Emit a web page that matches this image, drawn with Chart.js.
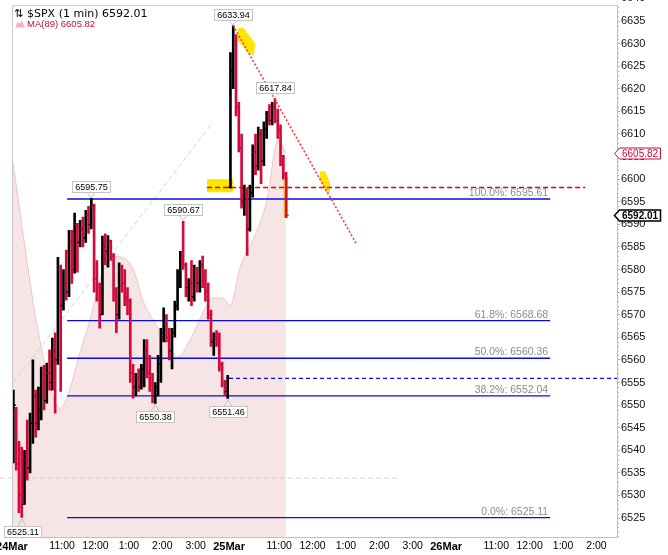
<!DOCTYPE html>
<html><head><meta charset="utf-8">
<script src="https://cdn.jsdelivr.net/npm/chart.js@4.4.1/dist/chart.umd.min.js"></script>
<style>html,body{margin:0;padding:0;background:#fff;overflow:hidden}canvas{display:block}</style>
</head><body><canvas id="c" width="668" height="555"></canvas>
<script>
// ---- x axis: session-minute index (24Mar 9:30 = 0, 25Mar 9:30 = 390, 26Mar 9:30 = 780)
const xTickIdx    = [0, 90, 150, 210, 270, 330, 390, 480, 540, 600, 660, 720, 780, 870, 930, 990, 1050];
const xTickLabels = ['24Mar','11:00','12:00','1:00','2:00','3:00','25Mar','11:00','12:00','1:00','2:00','3:00','26Mar','11:00','12:00','1:00','2:00'];
const yTicks = [6525,6530,6535,6540,6545,6550,6555,6560,6565,6570,6575,6580,6585,6590,6595,6600,6605,6610,6615,6620,6625,6630,6635,6640];

// ---- $SPX price bars (5-minute buckets)
const opens = [
 6541,6548,6537,6530,6528,6538,6536,6546,6552,6546,
 6549,6555,6551,6557,6555,6562,6560,6580,6572,6577,
 6575,6586,6580,6590,6586,6589,6587,6592,6590,6594,
 6578,6576,6570,6585,6584,6586,6583,6575,6570,6580,
 6577,6574,6573,6557,6554,6556,6554,6558,6562,6557,
 6555,6552,6554,6559,6566,6568,6565,6562,6566,6572,
 6578,6582,6581,6576,6577,6574,6580,6577,6581,6579,
 6575,6570,6564,6565,6564,6559,6555,6553,
 6598.2,6624,6630,6616,6607,6595,6597,6589,6597,6606,6603,6610,6604,6611,6614,6613,6616,6613,6611,6604,6601];
const highs = [
 6553.3,6549.5,6542,6540.7,6540,6546.7,6548.2,6560,6553.3,6554,
 6558.4,6558.8,6559.3,6562.2,6564.8,6566,6582.7,6581,6580,6584.3,
 6588.7,6588.7,6592.5,6590.2,6590.9,6591.6,6593.1,6594,6595.75,6594.5,
 6582,6577,6587.4,6587.9,6587.5,6586.5,6583.5,6576,6581.5,6581,
 6580,6576,6573.5,6559,6557,6558,6559,6564.5,6564.5,6561,
 6557,6555,6561,6567,6571.5,6570,6567,6567,6573,6580,
 6584,6590.67,6581.5,6578,6582,6581,6580.5,6582,6583,6580,
 6577,6571,6566,6566.5,6566,6559.5,6555.5,6556.6,
 6628,6633.94,6632,6617,6610,6598.7,6598,6598.7,6607.6,6610,6611.5,6611,6612.7,6615,6616.5,6617,6617.84,6615.5,6612,6605.3,6601.5];
const lows = [
 6537.2,6535.6,6526.2,6525.11,6528,6533.4,6535,6541.5,6542.9,6544.5,
 6546.7,6548.9,6550.4,6553.3,6553.3,6548.2,6559,6553,6571,6573.2,
 6574,6576.9,6579.2,6579.4,6585,6585,6586,6588,6589,6575,
 6573,6567,6570,6581,6580.5,6582,6573,6566,6569,6575,
 6572,6570,6555,6551.5,6552,6553,6553.5,6554,6556,6553,
 6550.5,6550.38,6552,6555,6564,6564,6560,6558,6565,6571,
 6576,6580,6574,6573,6572,6573,6575,6575,6576,6573,
 6569,6563,6561,6563,6557.5,6554,6552,6551.46,
 6598,6620,6614,6606,6593.6,6592,6583.1,6588.5,6596,6601,6602,6599,6603,6609,6612,6612,6612.5,6609,6603,6600,6591.5];
const closes = [
 6550,6537,6530,6528,6538,6536,6546,6552,6546,6549,
 6555,6551,6557,6555,6562,6560,6580,6572,6577,6575,
 6586,6580,6590,6586,6589,6587,6592,6590,6594,6578,
 6576,6570,6585,6584,6586,6583,6575,6570,6580,6577,
 6574,6573,6557,6554,6556,6554,6558,6562,6557,6555,
 6552,6554,6559,6566,6568,6565,6562,6566,6572,6578,
 6582,6581,6576,6577,6574,6580,6577,6581,6579,6575,
 6570,6564,6565,6564,6559,6555,6553,6555.9,
 6624,6630,6616,6607,6595,6597,6589,6597,6606,6603,6610,6604,6611,6614,6613,6616,6613,6611,6604,6601,6592.01];
const barMinutes = 5;

// ---- MA(89) mountain (minute index, value)
const maIdx = [0,50,86,99,122,140,158,176,189,217,235,261,284,297,320,343,361,379,392,410,433,458,478,492];
const maVal = [6604.9,6564.4,6549.3,6551.8,6561.5,6568.8,6577.7,6582.1,6582.8,6580.3,6573.2,6567.3,6562.2,6560.6,6564.4,6570.4,6573.7,6573.7,6572.1,6580.5,6586.5,6595.3,6608.6,6605.8];

// ---- Fibonacci retracement
const fibPct = ['100.0%','61.8%','50.0%','38.2%','0.0%'];
const fibVal = [6595.61, 6568.68, 6560.36, 6552.04, 6525.11];
const fibIdx = [99, 967];

// ---- drawn studies (minute index / value pairs)
const trendIdx = [397.2, 618.3],  trendVal = [6634.05, 6585.8];
const diagIdx  = [1.8, 361],      diagVal  = [6554.86, 6612.6];
const grayHIdx = [-21.6, 693.7],  grayHVal = 6533.85;
const redHIdx  = [350.5, 1030],   redHVal  = 6598.15;
const blueHIdx = [390, 1087],     blueHVal = 6555.9;

// ---- price call-outs
const tagVals  = [6633.94, 6617.84, 6595.75, 6590.67, 6550.38, 6551.46, 6525.11];
const tagBar   = [79, 94, 28, 61, 51, 77, 3];
const tagAbove = [true, true, true, true, false, false, false];

// ---- yellow highlights (minute index, value)
const highlights = [
 [[350.5,6600.0],[397.2,6600.0],[397.2,6597.1],[350.5,6597.1]],
 [[406.2,6633.4],[415.2,6633.6],[436.7,6630.1],[434.9,6627.4],[424.1,6627.9],[406.2,6630.7]],
 [[487,6600.4],[496,6600.4],[496,6591.6],[487,6591.6]],
 [[553.6,6601.75],[562.5,6601.75],[571.5,6599.1],[571.5,6597.1],[564.3,6597.1],[553.6,6599.8]]
];

const lastPrice = 6592.01, maLast = 6605.82;

// ---------- build datasets ----------
const UP = '#000000', DN = '#d20a3c';
const barX = opens.map((_, k) => k * barMinutes + barMinutes / 2);
const barCol = opens.map((o, k) => closes[k] >= o ? UP : DN);

const seg = (xs, ys) => [{x: xs[0], y: ys[0]}, {x: xs[1], y: ys[1]}];
const lineDs = (data, color, dash, width, order, extra) => Object.assign({
  type: 'line', data, borderColor: color, borderDash: dash, borderWidth: width,
  pointRadius: 0, fill: false, order, tension: 0 }, extra || {});

const datasets = [
  { type: 'line', data: maIdx.map((v, i) => ({x: v, y: maVal[i]})), fill: 'start',
    backgroundColor: '#f7e4e4', borderColor: '#efc4c9', borderWidth: 1, pointRadius: 0,
    cubicInterpolationMode: 'monotone', order: 20 },
  lineDs(seg(diagIdx, diagVal), '#d2d2d2', [5, 3], 1, 15),
  lineDs(seg(grayHIdx, [grayHVal, grayHVal]), '#d2d2d2', [5, 3], 1, 15, {clip: false}),
  ...fibVal.map(v => lineDs(seg(fibIdx, [v, v]), '#0a0ae6', [], 1.3, 14)),
  lineDs(seg(redHIdx, [redHVal, redHVal]), '#f00000', [5, 3], 1.3, 13),
  lineDs(seg(blueHIdx, [blueHVal, blueHVal]), '#0a0af5', [4, 3], 1.2, 13),
  { type: 'bar', data: barX.map((x, k) => ({x, y: [lows[k], highs[k]]})),
    backgroundColor: barCol, borderWidth: 0, barThickness: 2, order: 5 },
  { type: 'line', showLine: false, data: barX.map((x, k) => ({x: x - 2.4, y: opens[k]})),
    pointStyle: 'line', pointRadius: 1.4, pointBorderWidth: 1.2, pointBorderColor: barCol, order: 4 },
  { type: 'line', showLine: false, data: barX.map((x, k) => ({x: x + 2.4, y: closes[k]})),
    pointStyle: 'line', pointRadius: 1.4, pointBorderWidth: 1.2, pointBorderColor: barCol, order: 4 },
  lineDs(seg(trendIdx, trendVal), '#ff3434', [2, 2], 1.6, 2)
];

// ---------- extras plugin ----------
function tag(ctx, text, px, py, above) {
  ctx.font = '9px "Liberation Sans"';
  const w = Math.round(ctx.measureText(text).width + 5), h = 11;
  const bx = Math.round(px - w / 2) + 0.5;
  const by = above ? Math.round(py - 6 - h) + 0.5 : Math.round(py + 8) + 0.5;
  ctx.strokeStyle = '#c4c4c4'; ctx.lineWidth = 1; ctx.fillStyle = '#fff';
  ctx.beginPath();
  if (above) { ctx.moveTo(px - 4, by + h); ctx.lineTo(px, py - 1); ctx.lineTo(px + 4, by + h); }
  else { ctx.moveTo(px - 4, by); ctx.lineTo(px, py + 1); ctx.lineTo(px + 4, by); }
  ctx.stroke();
  ctx.fillRect(bx, by, w, h); ctx.strokeRect(bx, by, w, h);
  ctx.fillStyle = '#000'; ctx.textBaseline = 'middle'; ctx.textAlign = 'center';
  ctx.fillText(text, bx + w / 2, by + h / 2 + 0.5);
}
function axisTag(ctx, text, py, color, bold) {
  ctx.font = (bold ? 'bold ' : '') + '10px "Liberation Sans"';
  const x0 = 614.5, x1 = 619.5, w = Math.round(ctx.measureText(text).width + 5), h = 11;
  const y0 = Math.round(py) + 0.5;
  ctx.beginPath();
  ctx.moveTo(x0, y0); ctx.lineTo(x1, y0 - h / 2); ctx.lineTo(x1 + w, y0 - h / 2);
  ctx.lineTo(x1 + w, y0 + h / 2); ctx.lineTo(x1, y0 + h / 2); ctx.closePath();
  ctx.fillStyle = '#fff'; ctx.fill();
  ctx.strokeStyle = color; ctx.lineWidth = bold ? 1.5 : 1; ctx.stroke();
  ctx.fillStyle = bold ? '#000' : color; ctx.textAlign = 'left'; ctx.textBaseline = 'middle';
  ctx.fillText(text, x1 + 2.5, y0 + 0.5);
}

const extras = {
  id: 'extras',
  afterDatasetDraw(chart, args) {
    if (args.index !== 0) return;
    const {ctx, scales: {x, y}} = chart;
    ctx.save(); ctx.fillStyle = '#ffe500';
    highlights.forEach(poly => {
      ctx.beginPath();
      poly.forEach(([i, v], n) => {
        const px = x.getPixelForValue(i), py = y.getPixelForValue(v);
        n ? ctx.lineTo(px, py) : ctx.moveTo(px, py);
      });
      ctx.closePath(); ctx.fill();
    });
    ctx.restore();
  },
  afterDraw(chart) {
    const {ctx, chartArea: a, scales: {x, y}} = chart;
    ctx.save();
    // frame
    ctx.strokeStyle = '#c8c8c8'; ctx.lineWidth = 1;
    ctx.beginPath(); ctx.moveTo(a.left + 0.5, a.bottom); ctx.lineTo(a.left + 0.5, a.top + 0.5); ctx.lineTo(a.right, a.top + 0.5); ctx.stroke();
    // minor ticks on price axis
    ctx.strokeStyle = '#bdbdbd';
    for (let v = Math.ceil(y.min); v <= y.max; v++) {
      if (v % 5 === 0) continue;
      const py = Math.round(y.getPixelForValue(v)) + 0.5;
      ctx.beginPath(); ctx.moveTo(a.right, py); ctx.lineTo(a.right + 2, py); ctx.stroke();
    }
    // fib labels
    ctx.font = '10.5px "Liberation Sans"'; ctx.fillStyle = '#8c8c8c';
    ctx.textAlign = 'right'; ctx.textBaseline = 'alphabetic';
    fibVal.forEach((v, i) => {
      ctx.fillText(fibPct[i] + ': ' + v.toFixed(2), x.getPixelForValue(fibIdx[1]) - 2, y.getPixelForValue(v) - 3);
    });
    // price call-outs
    tagVals.forEach((v, i) => {
      tag(ctx, v.toFixed(2), Math.round(x.getPixelForValue(barX[tagBar[i]])), y.getPixelForValue(v), tagAbove[i]);
    });
    // header
    ctx.textAlign = 'left'; ctx.textBaseline = 'middle';
    ctx.fillStyle = '#000'; ctx.font = '11px "DejaVu Sans"';
    ctx.fillText('\u21C5', 14, 14);
    ctx.fillText('$SPX (1 min) ' + lastPrice.toFixed(2), 27, 14);
    ctx.fillStyle = '#f0b4be';
    ctx.beginPath(); ctx.moveTo(15, 27.5); ctx.lineTo(17.5, 21.5); ctx.lineTo(19.5, 24); ctx.lineTo(21.5, 20.5); ctx.lineTo(25, 27.5); ctx.closePath(); ctx.fill();
    ctx.fillStyle = '#cc0a3c'; ctx.font = '9.5px "Liberation Sans"';
    ctx.fillText('MA(89) ' + maLast.toFixed(2), 27, 24.5);
    // axis value boxes
    axisTag(ctx, maLast.toFixed(2), y.getPixelForValue(maLast), '#cc0a3c', false);
    axisTag(ctx, lastPrice.toFixed(2), y.getPixelForValue(lastPrice), '#000', true);
    ctx.restore();
  }
};

const chart = new Chart(document.getElementById('c'), {
  type: 'bar',
  data: { datasets },
  options: {
    responsive: false, animation: false, devicePixelRatio: 1,
    layout: { padding: { left: 12, top: 5, right: 0, bottom: 0 } },
    plugins: { legend: { display: false }, tooltip: { enabled: false } },
    scales: {
      x: {
        type: 'linear', min: 0, max: 1087, offset: false,
        afterBuildTicks: s => { s.ticks = xTickIdx.map(v => ({value: v})); },
        afterFit: s => { s.height = 18; s.paddingLeft = 0; s.paddingRight = 0; },
        grid: { drawOnChartArea: false, drawTicks: false },
        border: { color: '#c0c0c0' },
        ticks: {
          padding: 3, maxRotation: 0, minRotation: 0, autoSkip: false, color: '#000',
          font: c => (xTickLabels[c.index] || '').indexOf('Mar') >= 0
            ? { family: 'Liberation Sans', size: 11, weight: 'bold' }
            : { family: 'Liberation Sans', size: 10.5 },
          callback: (v, i) => xTickLabels[i]
        }
      },
      y: {
        type: 'linear', position: 'right', min: 6520.8, max: 6638.5,
        afterBuildTicks: s => { s.ticks = yTicks.map(v => ({value: v})); },
        afterFit: s => { s.width = 51; s.paddingTop = 0; s.paddingBottom = 0; },
        grid: { drawOnChartArea: false, drawTicks: true, tickLength: 3, color: '#b0b0b0' },
        border: { color: '#c0c0c0' },
        ticks: { padding: 1, color: '#111', font: { family: 'Liberation Sans', size: 11 }, callback: v => String(v) }
      }
    }
  },
  plugins: [extras]
});
</script></body></html>
